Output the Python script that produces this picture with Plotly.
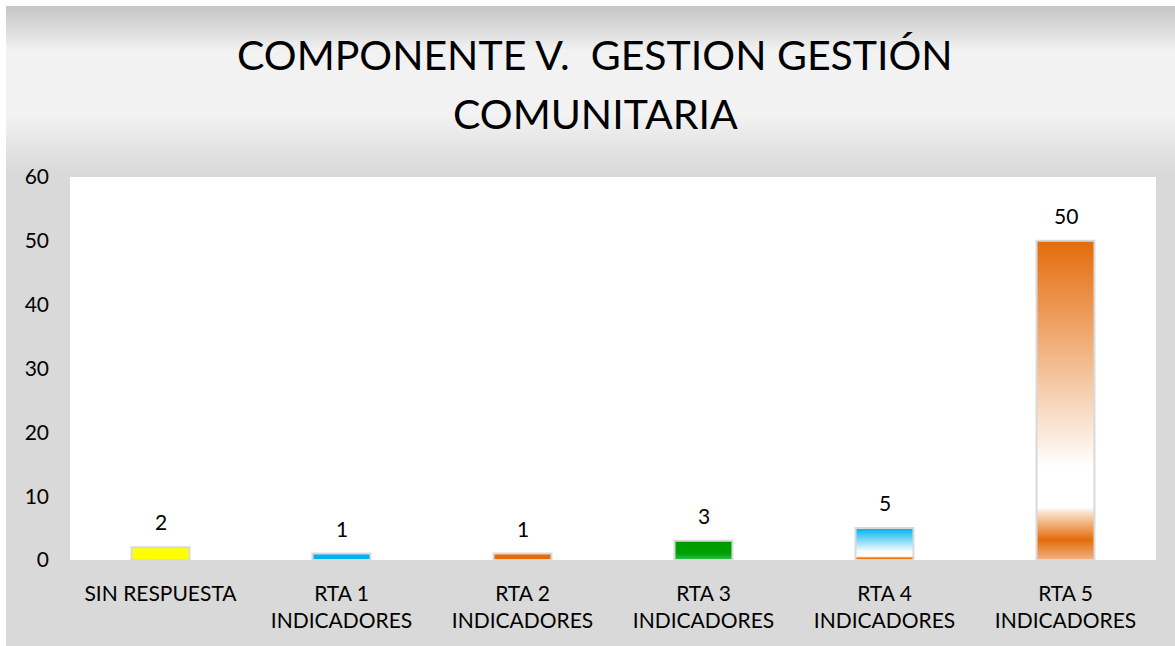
import base64
import plotly.graph_objects as go

# ---- data -------------------------------------------------------------
categories = ["SIN RESPUESTA", "RTA 1<br>INDICADORES", "RTA 2<br>INDICADORES",
              "RTA 3<br>INDICADORES", "RTA 4<br>INDICADORES", "RTA 5<br>INDICADORES"]
values = [2, 1, 1, 3, 5, 50]
title_lines = ["COMPONENTE V.\u00a0 GESTION GESTIÓN", "COMUNITARIA"]
y_ticks = [0, 10, 20, 30, 40, 50, 60]

# vertical fills for each bar (0 = base of the bar, 1 = top)
bar_fills = [
    [[0, "#ffff00"], [1, "#ffff00"]],
    [[0, "#00b0f0"], [1, "#00b0f0"]],
    [[0, "#e46c0a"], [1, "#e46c0a"]],
    [[0, "#2fc04f"], [0.35, "#00a000"], [1, "#009a00"]],
    [[0, "#f4b183"], [0.05, "#e46c0a"], [0.12, "#ffffff"],
     [0.25, "#ffffff"], [1, "#00b0f0"]],
    [[0, "#f4b183"], [0.063, "#e46c0a"], [0.15, "#fbe2cf"], [0.165, "#ffffff"],
     [0.29, "#ffffff"], [1, "#e46c0a"]],
]

FONT = "Lato"
HALF_W = 0.16  # half bar width in category units

# ---- page geometry ----------------------------------------------------
W, H = 1175, 646
ML, MR, MT, MB = 70, 19, 177, 86
PW, PH = W - ML - MR, H - MT - MB
FRAME = 6  # white border at left and top

# grey backdrop with the lighter band behind the title
svg = f"""<svg xmlns='http://www.w3.org/2000/svg' width='{W - FRAME}' height='{H - FRAME}'>
<defs><linearGradient id='g' x1='0' y1='0' x2='0' y2='1'>
<stop offset='0' stop-color='#c6c6c6'/>
<stop offset='0.035' stop-color='#dadada'/>
<stop offset='0.07' stop-color='#f2f2f2'/>
<stop offset='0.17' stop-color='#f2f2f2'/>
<stop offset='0.26' stop-color='#d9d9d9'/>
<stop offset='1' stop-color='#d9d9d9'/>
</linearGradient></defs>
<rect width='100%' height='100%' fill='url(#g)'/></svg>"""
bg_src = "data:image/svg+xml;base64," + base64.b64encode(svg.encode()).decode()

fig = go.Figure()

for i, (v, fill) in enumerate(zip(values, bar_fills)):
    fig.add_trace(go.Scatter(
        x=[i - HALF_W, i - HALF_W, i + HALF_W, i + HALF_W, i - HALF_W],
        y=[0, v, v, 0, 0],
        mode="lines",
        fill="toself",
        fillgradient=dict(type="vertical", colorscale=fill),
        line=dict(color="#d9d9d9", width=2),
        hoverinfo="skip",
        showlegend=False,
    ))

# value labels above each bar
for i, v in enumerate(values):
    fig.add_annotation(
        x=i, y=v, xref="x", yref="y", text=str(v), showarrow=False,
        yanchor="bottom", yshift=11,
        font=dict(family=FONT, size=21, color="#000000"),
    )

# two-line title
for k, (line, ypix) in enumerate(zip(title_lines, [55, 114])):
    fig.add_annotation(
        x=(595 - ML) / PW, y=(H - MB - ypix) / PH, xref="paper", yref="paper",
        text=line, showarrow=False, xanchor="center", yanchor="middle",
        font=dict(family=FONT, size=41, color="#000000"),
    )

fig.add_layout_image(
    source=bg_src, xref="paper", yref="paper",
    x=(FRAME - ML) / PW, y=(H - MB - FRAME) / PH,
    sizex=(W - FRAME) / PW, sizey=(H - FRAME) / PH,
    xanchor="left", yanchor="top", sizing="stretch", layer="below",
)
fig.add_shape(type="rect", xref="paper", yref="paper", x0=0, x1=1, y0=0, y1=1,
              fillcolor="#ffffff", line=dict(width=0), layer="below")

fig.update_layout(
    width=W, height=H,
    margin=dict(l=ML, r=MR, t=MT, b=MB),
    paper_bgcolor="#ffffff", plot_bgcolor="#ffffff",
    font=dict(family=FONT, size=21, color="#000000"),
    showlegend=False,
)
fig.update_xaxes(
    range=[-0.5, 5.5], tickmode="array", tickvals=list(range(len(categories))),
    ticktext=categories, showgrid=False, zeroline=False, showline=False,
    ticks="", ticklabelstandoff=19, fixedrange=True,
    tickfont=dict(family=FONT, size=21, color="#000000"),
)
fig.update_yaxes(
    range=[0, 60], tickmode="array", tickvals=y_ticks,
    showgrid=False, zeroline=False, showline=False,
    ticks="", ticklabelstandoff=20, fixedrange=True,
    tickfont=dict(family=FONT, size=21, color="#000000"),
)

fig.write_html("out.html")
